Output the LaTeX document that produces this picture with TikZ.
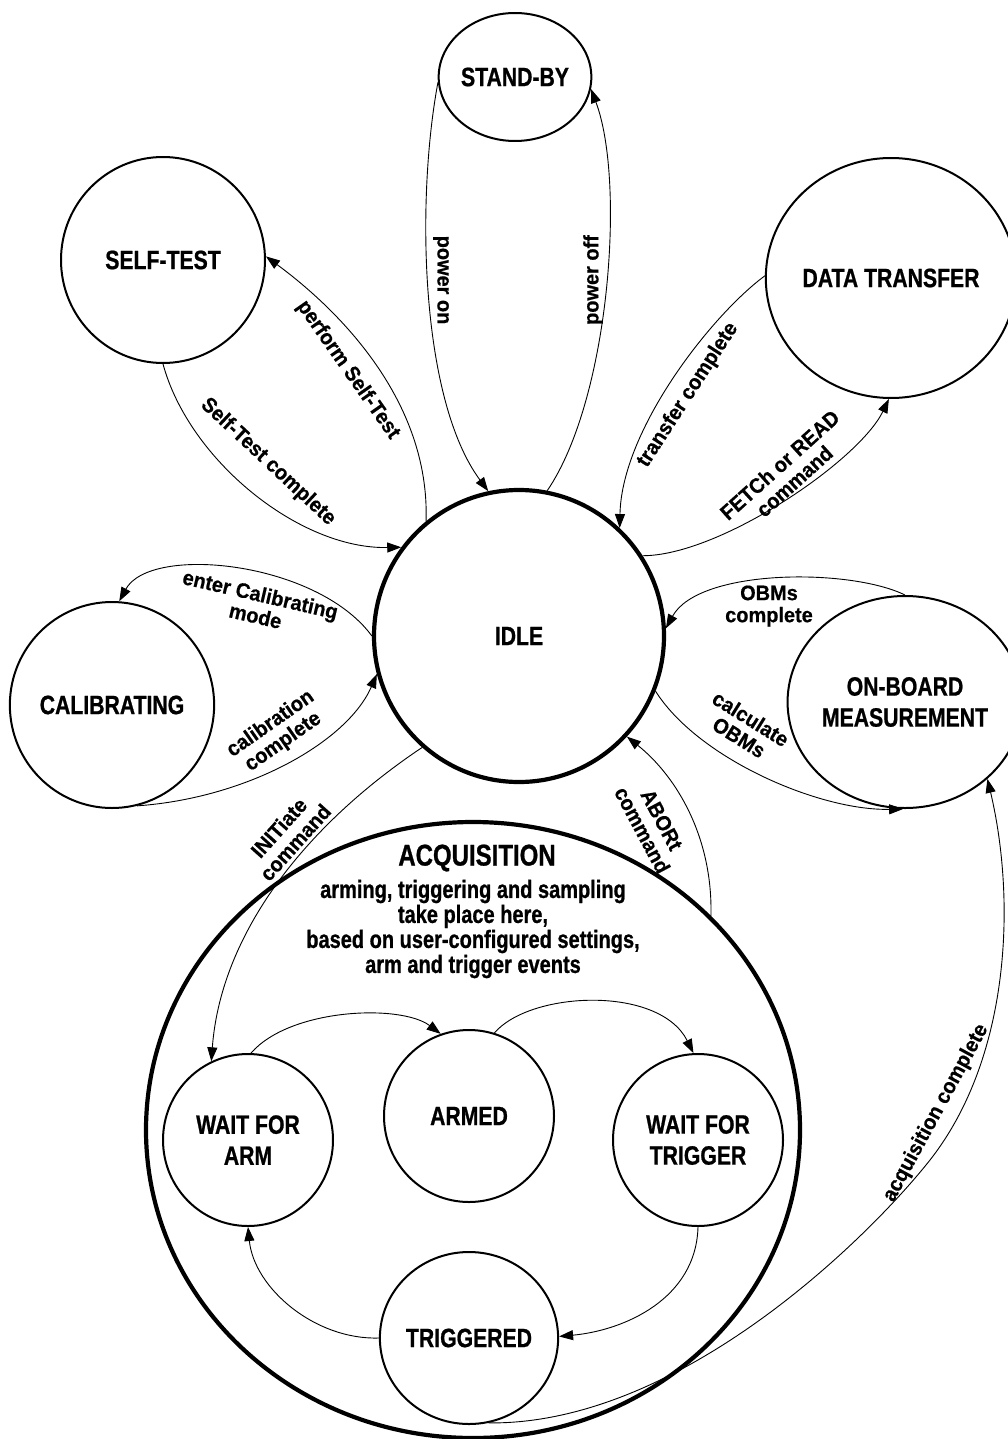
\documentclass[tikz,border=0pt]{standalone}
\usepackage{fontspec}
\newfontfamily\nodefont[FakeStretch=0.8,FakeBold=0.8]{Liberation Sans}
\newfontfamily\edgefont[FakeStretch=0.95,FakeBold=0.5]{Liberation Sans}
\usetikzlibrary{shapes.geometric,arrows.meta}
\begin{document}
\begin{tikzpicture}[x=1pt,y=-1pt,
  state/.style={draw, ellipse, line width=2pt, inner sep=0pt, align=center,
    font=\nodefont\bfseries\fontsize{26.5}{31}\selectfont},
  bigstate/.style={state, line width=4.2pt},
  conn/.style={line width=0.9pt, -{Triangle[length=14pt,width=10pt]}},
  lab/.style={inner sep=0pt, align=center,
    font=\edgefont\bfseries\fontsize{21}{22}\selectfont},
  acqtxt/.style={inner sep=0pt, align=center,
    font=\nodefont\bfseries\fontsize{25}{25}\selectfont}
]
\useasboundingbox (0,0) rectangle (1008,1439);

% states
\node[state, minimum width=126pt, minimum height=128pt] (sb) at (515,77) {STAND-BY};
\node[state, minimum width=204pt, minimum height=206pt] (st) at (163,260) {SELF-TEST};
\node[state, minimum width=234pt, minimum height=240pt] (dt) at (891,278) {DATA TRANSFER};
\node[bigstate, minimum width=290pt, minimum height=292pt] (idle) at (519,636) {IDLE};
\node[state, minimum width=204pt, minimum height=206pt] (cal) at (112,705) {CALIBRATING};
\node[state, minimum width=206pt, minimum height=212pt] (obm) at (905,702) {ON-BOARD\\MEASUREMENT};
\node[bigstate, minimum width=654pt, minimum height=616pt] (acq) at (473,1130) {};
\node[inner sep=0pt, font=\nodefont\bfseries\fontsize{30}{30}\selectfont] (acqtitle) at (477,858) {ACQUISITION};
\node[acqtxt] (acqdesc) at (473,929) {arming, triggering and sampling\\take place here,\\based on user-configured settings,\\arm and trigger events};
\node[state, minimum width=170pt, minimum height=172pt] (wfa) at (248,1140) {WAIT FOR\\ARM};
\node[state, minimum width=170pt, minimum height=172pt] (armed) at (469,1116) {ARMED};
\node[state, minimum width=170pt, minimum height=172pt] (wft) at (698,1140) {WAIT FOR\\TRIGGER};
\node[state, minimum width=170pt, minimum height=172pt] (trig) at (469,1338) {TRIGGERED};
\coordinate (acqvia) at (930,1160);

% connectors
\draw[conn] (sb.184) .. controls +(-22,118) and +(-68,-92) .. (idle.102);
\draw[conn] (idle.79) .. controls +(62,-91) and +(35,93) .. (sb.-9);
\draw[conn] (idle.129) .. controls +(4,-121) and +(72,53) .. (st.2);
\draw[conn] (st.-90) .. controls +(26,96) and +(-102,2) .. (idle.143);
\draw[conn] (dt.179) .. controls +(-54,40) and +(2,-98) .. (idle.47);
\draw[conn] (idle.33) .. controls +(77,0) and +(-30,62) .. (dt.-91);
\draw[conn] (idle.180) .. controls +(-55,-75) and +(31,-57) .. (cal.86);
\draw[conn] (cal.-76) .. controls +(112,-8) and +(-29,67) .. (idle.195);
\draw[conn] (obm.90) .. controls +(-55,-27) and +(33,-60) .. (idle.3);
\draw[conn] (idle.-22) .. controls +(43,68) and +(-83,2) .. (obm.-91);
\draw[conn] (trig.-77) .. controls +(192,2) and +(-60,76) .. (acqvia)
                       .. controls +(80,-102) and +(29,123) .. (obm.-43);
\draw[conn] (idle.229) .. controls +(-124,83) and +(9,-122) .. (wfa.115);
\draw[conn] (acq.42) .. controls +(2,-78) and +(50,40) .. (idle.-43);
\draw[conn] (wfa.88) .. controls +(39,-45) and +(-40,-30) .. (armed.109);
\draw[conn] (armed.73) .. controls +(36,-42) and +(-34,-68) .. (wft.93);
\draw[conn] (wft.-90) .. controls +(-2,72) and +(65,-6) .. (trig.1);
\draw[conn] (trig.180) .. controls +(-64,2) and +(6,61) .. (wfa.-90);

% connector labels
\node[lab, rotate=-90] (lpon) at (441,280) {power on};
\node[lab, rotate=90] (lpoff) at (593,280) {power off};
\node[lab, rotate=-55] (lpst) at (348,370) {perform Self-Test};
\node[lab, rotate=-43] (lstc) at (268,462) {Self-Test complete};
\node[lab, rotate=57] (ltc) at (688,395) {transfer complete};
\node[lab, rotate=42] (lfetch) at (787,473) {FETCh or READ\\command};
\node[lab, rotate=-13] (lecal) at (258,605) {enter Calibrating\\mode};
\node[lab, rotate=35] (lcalc) at (277,733) {calibration\\complete};
\node[lab] (lobmc) at (769,606) {OBMs\\complete};
\node[lab, rotate=-32] (lcobm) at (745,728) {calculate\\OBMs};
\node[lab, rotate=61.5] (lacqc) at (936,1113) {acquisition complete};
\node[lab, rotate=48] (linit) at (287,835) {INITiate\\command};
\node[lab, rotate=-62] (labort) at (652,825) {ABORt\\command};
\end{tikzpicture}
\end{document}
